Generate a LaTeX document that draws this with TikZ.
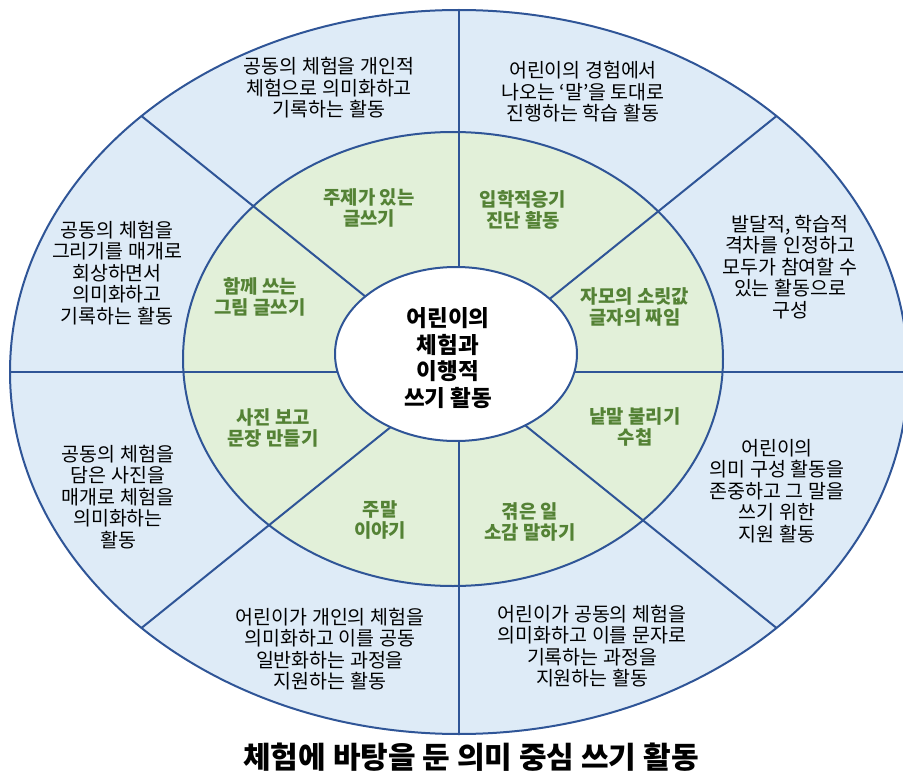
\documentclass[tikz,border=0pt]{standalone}
\usepackage{fontspec}
\setmainfont{Noto Sans CJK KR}
\definecolor{ringblue}{HTML}{2F5597}
\definecolor{outfill}{HTML}{DEEBF7}
\definecolor{midfill}{HTML}{E2F0D9}
\definecolor{leafgreen}{HTML}{548235}
\begin{document}
\begin{tikzpicture}[x=1pt,y=-1pt,line join=round,line cap=round,
        ring/.style={draw=ringblue,line width=2pt},
        outtxt/.style={align=center,font=\fontsize{19.5}{21.5}\selectfont},
        midtxt/.style={align=center,text=leafgreen,font=\bfseries\fontsize{18.8}{20.5}\selectfont}]
    \useasboundingbox (0,0) rectangle (903,773);
    \draw[ring,fill=outfill] (459,372) ellipse [x radius=449,y radius=362];
    \draw[ring,fill=midfill] (453,359) ellipse [x radius=270,y radius=227];
    \foreach \a in {0,45,...,315}
        \draw[ring] (459,372) -- ++({449*cos(\a)},{362*sin(\a)});
    \draw[ring,fill=white] (456,354) ellipse [x radius=121,y radius=87];
    \node[outtxt] (o1) at (329,88) {공동의 체험을 개인적\\체험으로 의미화하고\\기록하는 활동};
    \node[outtxt] (o2) at (583,92) {어린이의 경험에서\\나오는 ‘말’을 토대로\\진행하는 학습 활동};
    \node[outtxt] (o3) at (790,267) {발달적, 학습적\\격차를 인정하고\\모두가 참여할 수\\있는 활동으로\\구성};
    \node[outtxt] (o4) at (777,491) {어린이의\\의미 구성 활동을\\존중하고 그 말을\\쓰기 위한\\지원 활동};
    \node[outtxt] (o5) at (592,646) {어린이가 공동의 체험을\\의미화하고 이를 문자로\\기록하는 과정을\\지원하는 활동};
    \node[outtxt] (o6) at (330,649) {어린이가 개인의 체험을\\의미화하고 이를 공동\\일반화하는 과정을\\지원하는 활동};
    \node[outtxt] (o7) at (118,497) {공동의 체험을\\담은 사진을\\매개로 체험을\\의미화하는\\활동};
    \node[outtxt] (o8) at (117,273) {공동의 체험을\\그리기를 매개로\\회상하면서\\의미화하고\\기록하는 활동};
    \node[midtxt] (m1) at (369,208) {주제가 있는\\글쓰기};
    \node[midtxt] (m2) at (523,210) {입학적응기\\진단 활동};
    \node[midtxt] (m3) at (635,307) {자모의 소릿값\\글자의 짜임};
    \node[midtxt] (m4) at (635,427) {낱말 불리기\\수첩};
    \node[midtxt] (m5) at (530,522) {겪은 일\\소감 말하기};
    \node[midtxt] (m6) at (380,520) {주말\\이야기};
    \node[midtxt] (m7) at (273,428) {사진 보고\\문장 만들기};
    \node[midtxt] (m8) at (260,297) {함께 쓰는\\그림 글쓰기};
    \node[align=center,font=\bfseries\fontsize{22.5}{26.5}\selectfont] (hub) at (448,358) {어린이의\\체험과\\이행적\\쓰기 활동};
    \node[font=\bfseries\fontsize{30}{32}\selectfont] (title) at (471,757) {체험에 바탕을 둔 의미 중심 쓰기 활동};
\end{tikzpicture}
\end{document}
